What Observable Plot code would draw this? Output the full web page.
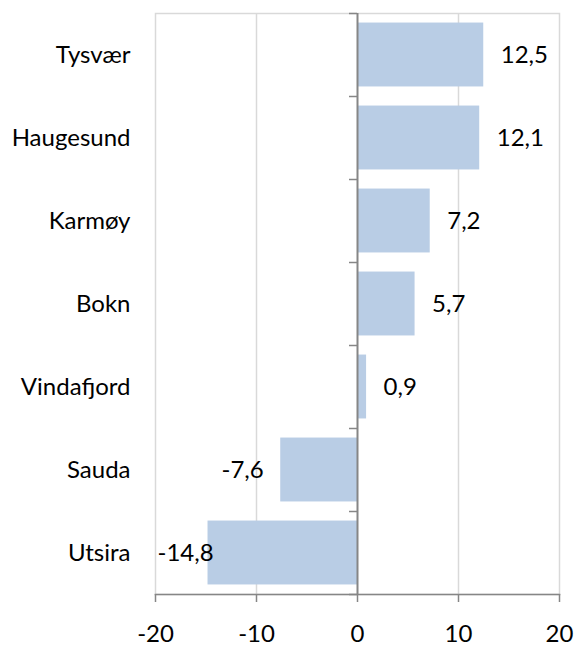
<!DOCTYPE html>
<html><head><meta charset="utf-8">
<script src="https://cdn.jsdelivr.net/npm/d3@7"></script>
<script src="https://cdn.jsdelivr.net/npm/@observablehq/plot@0.6"></script>
<style>body{margin:0;background:#fff}</style>
</head><body><div id="chart"></div>
<script>
const municipalities = ["Tysvær","Haugesund","Karmøy","Bokn","Vindafjord","Sauda","Utsira"];
const values = [12.5, 12.1, 7.2, 5.7, 0.9, -7.6, -14.8];
const xTicks = [-20, -10, 0, 10, 20];
const gridValues = [-10, 10];

const data = municipalities.map((name, i) => ({name, value: values[i]}));

const W = 574, H = 646, mL = 155, mR = 15, mT = 13, mB = 52;
const pad = 0.23;
const step = (H - mT - mB) / municipalities.length;
const fmt = v => String(v).replace(".", ",");
const xMin = -20;
// labels that would overflow the frame on the left are pinned to the frame
const pinned = d => d.value < 0 && d.value - 7 < xMin;

const chart = Plot.plot({
  width: W, height: H,
  marginLeft: mL, marginRight: mR, marginTop: mT, marginBottom: mB,
  style: {fontFamily: "Lato, 'Open Sans', sans-serif", fontSize: "24px", color: "#000", background: "#fff"},
  x: {domain: [-20, 20], ticks: xTicks, tickFormat: d => String(d), label: null},
  y: {domain: municipalities, paddingInner: pad, paddingOuter: pad / 2, round: false, label: null},
  marks: [
    Plot.frame({stroke: "#d9d9d9", strokeWidth: 1.5}),
    Plot.ruleX(gridValues, {stroke: "#d9d9d9", strokeWidth: 1.5}),
    Plot.barX(data, {x: "value", y: "name", fill: "#b9cde5"}),
    Plot.ruleX([0], {stroke: "#868686", strokeWidth: 2}),
    Plot.ruleY(municipalities, {y: d => d, x1: 0, x2: 0, insetLeft: -8, dy: -step / 2, stroke: "#868686", strokeWidth: 1.5}),
    Plot.ruleY(municipalities.slice(-1), {y: d => d, x1: 0, x2: 0, insetLeft: -8, dy: step / 2, stroke: "#868686", strokeWidth: 1.5}),
    Plot.frame({anchor: "bottom", stroke: "#868686", strokeWidth: 1.5}),
    Plot.axisX({ticks: xTicks, tickSize: 8, tickPadding: 22, stroke: "#868686", strokeWidth: 1.5, strokeOpacity: 1, fontSize: 24, tickFormat: d => String(d), label: null}),
    Plot.axisY({tickSize: 0, tickPadding: 25, fontSize: 24, label: null}),
    Plot.text(data.filter(d => d.value >= 0), {x: "value", y: "name", text: d => fmt(d.value), textAnchor: "start", dx: 17, fontSize: 24}),
    Plot.text(data.filter(d => d.value < 0 && !pinned(d)), {x: "value", y: "name", text: d => fmt(d.value), textAnchor: "end", dx: -17, fontSize: 24}),
    Plot.text(data.filter(pinned), {x: xMin, y: "name", text: d => fmt(d.value), textAnchor: "start", dx: 2, fontSize: 24})
  ]
});
document.getElementById("chart").appendChild(chart);
</script>
</body></html>
